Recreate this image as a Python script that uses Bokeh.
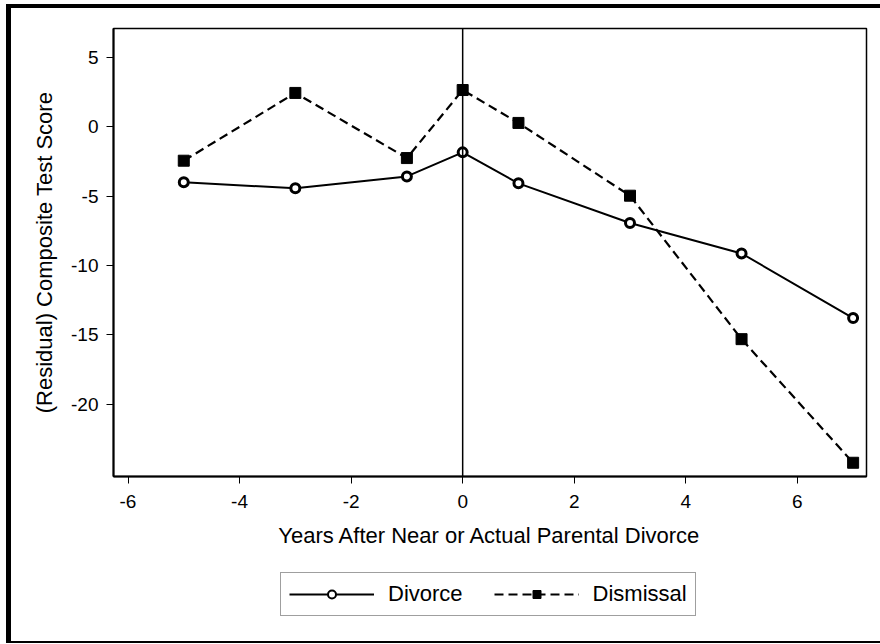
from bokeh.plotting import figure
from bokeh.layouts import column
from bokeh.models import Range1d, FixedTicker, Span, Legend, LegendItem
from bokeh.embed import file_html
from bokeh.resources import INLINE

years = [-5, -3, -1, 0, 1, 3, 5, 7]
divorce = [-4.0, -4.44, -3.58, -1.85, -4.08, -6.94, -9.13, -13.78]
dismissal = [-2.45, 2.43, -2.26, 2.64, 0.27, -4.97, -15.3, -24.2]
x_ticks = [-6, -4, -2, 0, 2, 4, 6]
y_ticks = [-20, -15, -10, -5, 0, 5]
x_title = "Years After Near or Actual Parental Divorce"
y_title = "(Residual) Composite Test Score"
series_names = ["Divorce", "Dismissal"]

FONT = "Liberation Sans"

p = figure(width=869, height=555, output_backend="svg", toolbar_location=None,
           x_range=Range1d(-6.26, 7.24), y_range=Range1d(-25.19, 7.07),
           min_border_left=102, min_border_right=14, min_border_top=20,
           min_border_bottom=87)
p.background_fill_color = "white"
p.border_fill_color = "white"
p.outline_line_color = "black"
p.outline_line_width = 1.5
p.xgrid.visible = False
p.ygrid.visible = False

for ax in (p.xaxis[0], p.yaxis[0]):
    ax.axis_line_color = "black"
    ax.axis_line_width = 2
    ax.major_tick_line_color = "black"
    ax.major_tick_line_width = 1
    ax.major_tick_out = 7
    ax.major_tick_in = 0
    ax.minor_tick_line_color = None
    ax.major_label_text_font = FONT
    ax.major_label_text_font_size = "19px"
    ax.major_label_text_color = "black"
    ax.axis_label_text_font = FONT
    ax.axis_label_text_font_size = "22px"
    ax.axis_label_text_font_style = "normal"
    ax.axis_label_text_color = "black"

p.xaxis[0].ticker = FixedTicker(ticks=x_ticks)
p.yaxis[0].ticker = FixedTicker(ticks=y_ticks)
p.xaxis[0].major_label_overrides = {t: str(t) for t in x_ticks}
p.yaxis[0].major_label_overrides = {t: str(t) for t in y_ticks}
p.xaxis[0].axis_label = x_title
p.yaxis[0].axis_label = y_title
p.xaxis[0].major_label_standoff = 11
p.yaxis[0].major_label_standoff = 8
p.xaxis[0].axis_label_standoff = 12
p.yaxis[0].axis_label_standoff = 11

p.add_layout(Span(location=0, dimension="height", line_color="black", line_width=1.5))

p.line(years, divorce, line_color="black", line_width=2)
p.scatter(years, divorce, marker="circle", size=9, line_color="black",
          line_width=3, fill_color="white")
p.line(years, dismissal, line_color="black", line_width=2.2, line_dash="9 5")
p.scatter(years, dismissal, marker="square", size=11, line_color="black",
          fill_color="black")

# legend strip below the chart (same glyph styles, data kept out of view)
q = figure(width=869, height=78, output_backend="svg", toolbar_location=None,
           x_range=Range1d(100, 101), y_range=Range1d(100, 101),
           x_axis_type=None, y_axis_type=None,
           min_border_left=0, min_border_right=0, min_border_top=0,
           min_border_bottom=0)
q.outline_line_color = None
q.xgrid.visible = False
q.ygrid.visible = False
q.background_fill_color = "white"
q.border_fill_color = "white"
ql1 = q.line(years, divorce, line_color="black", line_width=2)
qs1 = q.scatter(years, divorce, marker="circle", size=9, line_color="black",
                line_width=2, fill_color="white")
ql2 = q.line(years, dismissal, line_color="black", line_width=2.2, line_dash="9 5")
qs2 = q.scatter(years, dismissal, marker="square", size=11, line_color="black",
                fill_color="black")

legend = Legend(items=[LegendItem(label=series_names[0], renderers=[ql1, qs1]),
                       LegendItem(label=series_names[1], renderers=[ql2, qs2])],
                orientation="horizontal", location=(167, 25))
legend.label_text_font = FONT
legend.label_text_font_size = "22px"
legend.label_text_color = "black"
legend.glyph_width = 85
legend.glyph_height = 20
legend.label_standoff = 14
legend.spacing = 31
legend.padding = 8
legend.margin = 0
legend.border_line_color = "#404040"
legend.border_line_width = 1.5
legend.background_fill_color = "white"
q.add_layout(legend, "center")

layout = column(p, q, spacing=0, margin=(4, 0, 0, 6))
layout.styles = {"border-left": "5px solid black", "border-top": "4px solid black",
                 "border-bottom": "2px solid black", "background-color": "white"}

open("out.html", "w").write(file_html(layout, INLINE))
